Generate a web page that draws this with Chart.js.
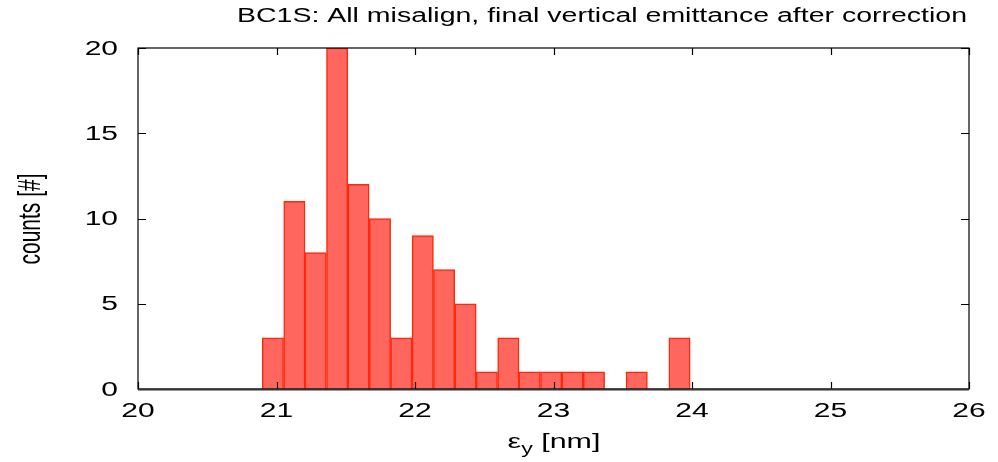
<!DOCTYPE html>
<html>
<head>
<meta charset="utf-8">
<script src="https://cdn.jsdelivr.net/npm/chart.js@4/dist/chart.umd.min.js"></script>
<style>
  html, body { margin: 0; padding: 0; background: #fff; }
  #wrap { width: 998px; height: 462px; position: relative; }
</style>
</head>
<body>
<div id="wrap"><canvas id="histChart"></canvas></div>
<script>
// bin centres of the histogram (nm)
const binCenters = [20.974, 21.129, 21.283, 21.438, 21.592, 21.747, 21.901, 22.056, 22.210, 22.365,
                    22.519, 22.674, 22.828, 22.983, 23.137, 23.292, 23.446, 23.601, 23.755, 23.910];
// counts per bin
const counts = [3, 11, 8, 20, 12, 10, 3, 9, 7, 5, 1, 3, 1, 1, 1, 1, 0, 1, 0, 3];
const xTicks = [20, 21, 22, 23, 24, 25, 26];
const yTicks = [0, 5, 10, 15, 20];

const titleText = "BC1S: All misalign, final vertical emittance after correction";
const yTitle = "counts [#]";

const FONT = "'Liberation Sans', Arial, sans-serif";

// the reference text is stretched sideways, so draw it scaled
function wideText(ctx, text, x, y, sx, align) {
    ctx.save();
    ctx.translate(x, y);
    ctx.scale(sx, 1);
    ctx.textAlign = align;
    ctx.fillText(text, 0, 0);
    ctx.restore();
}

// gnuplot-like frame with inward ticks plus all the labels
const framePlugin = {
    id: "frame",
    afterDraw(chart) {
        const ctx = chart.ctx;
        const a = chart.chartArea;
        const xs = chart.scales.x, ys = chart.scales.y;
        ctx.save();
        ctx.strokeStyle = "#000";
        ctx.lineWidth = 1.2;
        ctx.strokeRect(a.left, a.top, a.right - a.left, a.bottom - a.top);
        ctx.beginPath();
        xTicks.forEach(v => {
            const px = Math.round(xs.getPixelForValue(v)) + 0.5;
            ctx.moveTo(px, a.bottom); ctx.lineTo(px, a.bottom - 7);
            ctx.moveTo(px, a.top); ctx.lineTo(px, a.top + 7);
        });
        yTicks.forEach(v => {
            const py = Math.round(ys.getPixelForValue(v)) + 0.5;
            ctx.moveTo(a.left, py); ctx.lineTo(a.left + 8, py);
            ctx.moveTo(a.right, py); ctx.lineTo(a.right - 8, py);
        });
        ctx.stroke();
        // darker bottom axis line
        ctx.strokeStyle = "#333";
        ctx.lineWidth = 2;
        ctx.beginPath();
        ctx.moveTo(a.left, a.bottom + 0.5); ctx.lineTo(a.right, a.bottom + 0.5);
        ctx.stroke();

        ctx.fillStyle = "#000";
        ctx.textBaseline = "middle";

        // tick labels
        ctx.font = "20px " + FONT;
        xTicks.forEach(v => wideText(ctx, String(v), xs.getPixelForValue(v), 411, 1.5, "center"));
        yTicks.forEach(v => wideText(ctx, String(v), 118, ys.getPixelForValue(v) + 1, 1.5, "right"));

        // title
        ctx.font = "20px " + FONT;
        const tw = ctx.measureText(titleText).width;
        wideText(ctx, titleText, 602, 16, 730 / tw, "center");

        // y axis title (glyph height stretched)
        ctx.save();
        ctx.translate(32, 219);
        ctx.scale(1.45, 1);
        ctx.rotate(-Math.PI / 2);
        ctx.font = "21px " + FONT;
        ctx.textAlign = "center";
        ctx.fillText(yTitle, 0, 0);
        ctx.restore();

        // x axis title: epsilon with subscript y
        ctx.textBaseline = "alphabetic";
        const sx = 1.45;
        const eps = "\u03b5", sub = "y", rest = " [nm]";
        ctx.font = "21px " + FONT;
        const wEps = ctx.measureText(eps).width * sx;
        const wRest = ctx.measureText(rest).width * sx;
        ctx.font = "16px " + FONT;
        const wSub = ctx.measureText(sub).width * sx;
        const x0 = 554 - (wEps + wSub + wRest) / 2;
        const base = 448;
        ctx.font = "21px " + FONT;
        wideText(ctx, eps, x0, base, sx, "left");
        ctx.font = "16px " + FONT;
        wideText(ctx, sub, x0 + wEps, base + 6, sx, "left");
        ctx.font = "21px " + FONT;
        wideText(ctx, rest, x0 + wEps + wSub, base, sx, "left");
        ctx.restore();
    }
};

new Chart(document.getElementById("histChart"), {
    type: "bar",
    data: {
        datasets: [{
            data: binCenters.map((c, i) => ({ x: c, y: counts[i] })),
            backgroundColor: "rgb(255, 102, 94)",
            borderColor: "rgb(255, 40, 10)",
            borderWidth: 1.5,
            barPercentage: 1.0,
            categoryPercentage: 1.0
        }]
    },
    options: {
        responsive: true,
        maintainAspectRatio: false,
        animation: false,
        layout: { padding: { top: 48, right: 29, left: 0, bottom: 0 } },
        plugins: {
            legend: { display: false },
            title: { display: false },
            tooltip: { enabled: false }
        },
        scales: {
            x: {
                type: "linear",
                offset: false,
                min: 20, max: 26,
                grid: { display: false, drawTicks: false },
                border: { display: false },
                afterBuildTicks: s => { s.ticks = xTicks.map(v => ({ value: v })); },
                afterFit: s => { s.height = 462 - 389; },
                ticks: { display: false }
            },
            y: {
                min: 0, max: 20,
                grid: { display: false, drawTicks: false },
                border: { display: false },
                afterBuildTicks: s => { s.ticks = yTicks.map(v => ({ value: v })); },
                afterFit: s => { s.width = 138; },
                ticks: { display: false }
            }
        }
    },
    plugins: [framePlugin]
});
</script>
</body>
</html>
